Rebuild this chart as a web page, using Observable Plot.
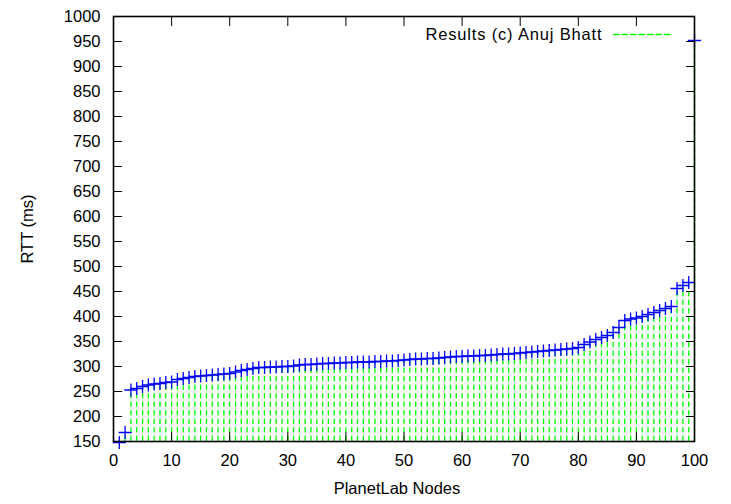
<!DOCTYPE html>
<html>
<head>
<meta charset="utf-8">
<script src="https://cdn.jsdelivr.net/npm/d3@7"></script>
<script src="https://cdn.jsdelivr.net/npm/@observablehq/plot@0.6"></script>
<style>
  html, body { margin: 0; padding: 0; background: #fff; }
  #chart svg { display: block; }
</style>
</head>
<body>
<div id="chart"></div>
<script>
// Node index (x) and RTT in ms (y)
const nodes = d3.range(1, 101);
const rtt = [
  148, 168, 253, 256, 260, 263, 265, 266, 268, 269,
  274, 276, 278, 280, 281, 282, 283, 284, 285, 286,
  289, 292, 294, 296, 298, 298, 299, 299, 300, 300,
  301, 303, 304, 304, 305, 306, 306, 307, 307, 308,
  308, 309, 309, 309, 310, 310, 311, 311, 312, 313,
  314, 315, 315, 316, 316, 317, 318, 319, 320, 320,
  321, 321, 322, 322, 323, 324, 325, 325, 326, 327,
  328, 329, 330, 331, 332, 333, 334, 335, 336, 338,
  344, 349, 354, 358, 362, 368, 378, 392, 395, 397,
  400, 404, 408, 412, 416, 420, 456, 462, 468, 952
];
const xTicks = d3.range(0, 101, 10);
const yTicks = d3.range(150, 1001, 50);
const xLabel = "PlanetLab Nodes";
const yLabel = "RTT (ms)";
const legendLabel = "Results (c) Anuj Bhatt";

const data = nodes.map((n, i) => ({node: n, rtt: rtt[i]}));
const yMin = 150;

const lineShape = {
  draw(context, l) { context.moveTo(0, 0); context.lineTo(0, -l); }
};

const green = "#00ff00";
const blue = "#0000ff";
const dash = "5.5,3";
const fs = 16.5;

const chart = Plot.plot({
  width: 731,
  height: 504,
  marginLeft: 113,
  marginRight: 37,
  marginTop: 16,
  marginBottom: 63,
  style: {fontFamily: "'Liberation Sans', Arial, sans-serif", fontSize: fs + "px", background: "#fff", overflow: "visible", color: "#000"},
  x: {domain: [0, 100]},
  y: {domain: [150, 1000]},
  marks: [
    // impulses
    Plot.ruleX(data, {x: "node", y1: () => yMin, y2: "rtt", stroke: green, strokeWidth: 1.3, strokeDasharray: dash}),
    // points
    Plot.dot(data, {x: "node", y: "rtt", symbol: "plus", r: 4.3, stroke: blue, strokeWidth: 1.3}),
    // axes (ticks inward, gnuplot style)
    Plot.axisX({anchor: "bottom", ticks: xTicks, tickFormat: d3.format("d"), tickSize: 9, dy: -9, tickPadding: 13, fontSize: fs, label: null}),
    Plot.axisX({anchor: "top", ticks: xTicks, tickSize: 9, dy: 9, tickFormat: () => "", label: null}),
    Plot.axisY({anchor: "left", ticks: yTicks, tickFormat: d3.format("d"), tickSize: 9, dx: 9, tickPadding: 13, fontSize: fs, label: null}),
    Plot.axisY({anchor: "right", ticks: yTicks, tickSize: 9, dx: -9, tickFormat: () => "", label: null}),
    Plot.frame({stroke: "#000", strokeWidth: 1.6}),
    // axis titles
    Plot.text([xLabel], {frameAnchor: "bottom", dx: -7, dy: 47, textAnchor: "middle", lineAnchor: "middle", fontSize: fs, fill: "#000"}),
    Plot.text([yLabel], {frameAnchor: "left", dx: -86, rotate: -90, textAnchor: "middle", lineAnchor: "middle", fontSize: fs, fill: "#000"}),
    // legend
    Plot.text([legendLabel], {frameAnchor: "top-right", dx: -93, dy: 18, textAnchor: "end", lineAnchor: "middle", fontSize: fs, fill: "#000", className: "legend-label"}),
    Plot.vector([legendLabel], {frameAnchor: "top-right", dx: -81, dy: 18, rotate: 90, length: 58, anchor: "start", shape: lineShape, stroke: green, strokeWidth: 1.3, strokeDasharray: dash})
  ]
});

// widen the legend text slightly to match the reference spacing
d3.select(chart).selectAll(".legend-label text")
  .attr("textLength", 176)
  .attr("lengthAdjust", "spacing");

document.getElementById("chart").appendChild(chart);
</script>
</body>
</html>
